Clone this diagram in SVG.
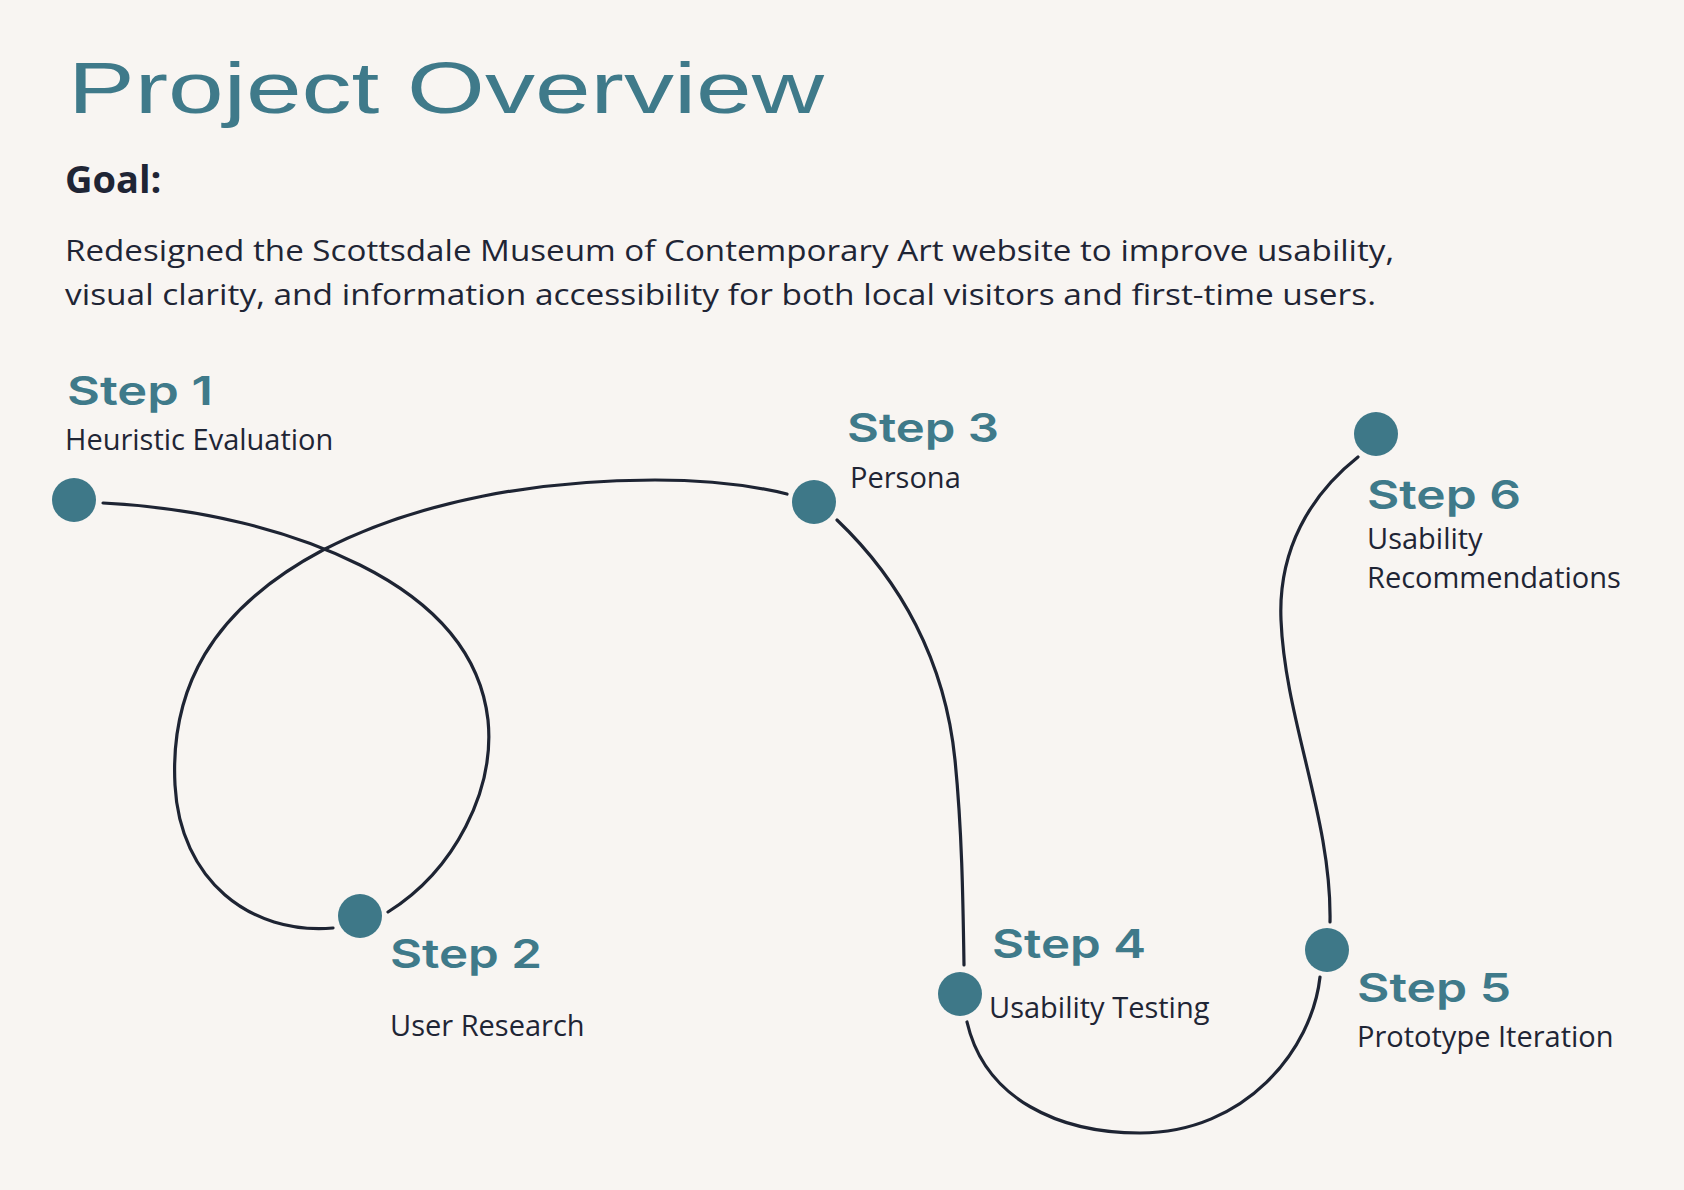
<svg xmlns="http://www.w3.org/2000/svg" width="1684" height="1190" viewBox="0 0 1684 1190">
<style>
.title{font-family:"Liberation Sans",Arial,sans-serif;font-size:72px;fill:#3f7a8a}
.goal{font-family:"Open Sans","Noto Sans",sans-serif;font-weight:700;font-size:38px;fill:#1f2535}
.body{font-family:"Open Sans","Noto Sans",sans-serif;font-weight:500;font-size:29px;fill:#1f2535}
.step{font-family:Inter,"DejaVu Sans",sans-serif;font-weight:600;font-size:40px;fill:#3f7a8a}
.lbl{font-family:"Open Sans","Noto Sans",sans-serif;font-weight:500;font-size:29px;fill:#1f2535}
.dot{fill:#3e7888}
.wire{fill:none;stroke:#1e2433;stroke-width:3.2;stroke-linecap:round}
</style>
<rect width="1684" height="1190" fill="#f8f5f2"/>
<text class="title" x="68" y="113" textLength="756" lengthAdjust="spacingAndGlyphs">Project Overview</text>
<text class="goal" x="65" y="193">Goal:</text>
<text class="body" x="65" y="261" textLength="1329" lengthAdjust="spacingAndGlyphs">Redesigned the Scottsdale Museum of Contemporary Art website to improve usability,</text>
<text class="body" x="65" y="305" textLength="1311" lengthAdjust="spacingAndGlyphs">visual clarity, and information accessibility for both local visitors and first-time users.</text>
<g id="connectors">
<path class="wire" d="M103,503 C200,508 290,530 360,565 C430,600 480,650 488,720 C495,790 455,870 388,912"/>
<path class="wire" d="M333,928 C250,935 180,880 175,785 C170,690 210,610 323,550 C420,500 540,480 655,480 C710,480 750,485 787,494"/>
<path class="wire" d="M837,520 C900,580 945,660 955,760 C962,830 963,900 964,965"/>
<path class="wire" d="M967,1022 C985,1100 1060,1133 1140,1133 C1245,1133 1312,1050 1320,977"/>
<path class="wire" d="M1330,922 C1332,820 1285,720 1281,620 C1278,550 1310,495 1358,457"/>
</g>
<g id="step1">
<circle class="dot" cx="74" cy="500" r="22"/>
<text class="step" x="67" y="405" textLength="146" lengthAdjust="spacingAndGlyphs">Step 1</text>
<text class="lbl" x="65" y="450">Heuristic Evaluation</text>
</g>
<g id="step2">
<circle class="dot" cx="360" cy="916" r="22"/>
<text class="step" x="390" y="968" textLength="152" lengthAdjust="spacingAndGlyphs">Step 2</text>
<text class="lbl" x="390" y="1036">User Research</text>
</g>
<g id="step3">
<circle class="dot" cx="814" cy="502" r="22"/>
<text class="step" x="847" y="442" textLength="152" lengthAdjust="spacingAndGlyphs">Step 3</text>
<text class="lbl" x="850" y="488">Persona</text>
</g>
<g id="step4">
<circle class="dot" cx="960" cy="994" r="22"/>
<text class="step" x="992" y="958" textLength="154" lengthAdjust="spacingAndGlyphs">Step 4</text>
<text class="lbl" x="989" y="1018">Usability Testing</text>
</g>
<g id="step5">
<circle class="dot" cx="1327" cy="950" r="22"/>
<text class="step" x="1357" y="1002" textLength="154" lengthAdjust="spacingAndGlyphs">Step 5</text>
<text class="lbl" x="1357" y="1047">Prototype Iteration</text>
</g>
<g id="step6">
<circle class="dot" cx="1376" cy="434" r="22"/>
<text class="step" x="1367" y="509" textLength="154" lengthAdjust="spacingAndGlyphs">Step 6</text>
<text class="lbl" x="1367" y="549">Usability</text>
<text class="lbl" x="1367" y="588">Recommendations</text>
</g>
</svg>
